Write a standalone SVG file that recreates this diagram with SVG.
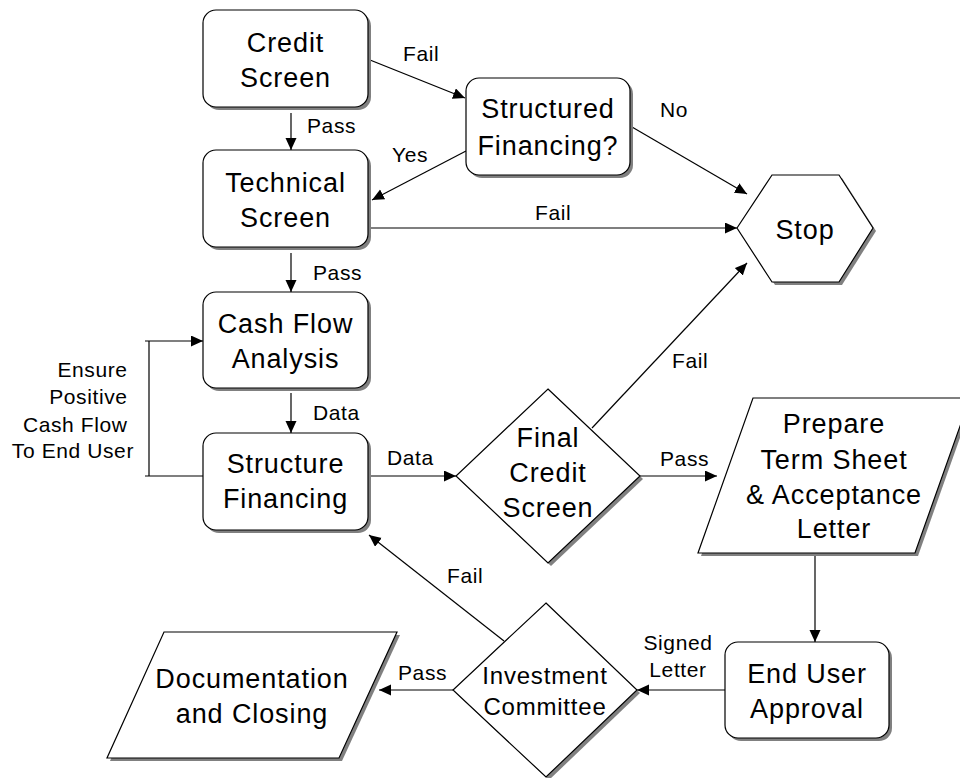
<svg xmlns="http://www.w3.org/2000/svg" width="960" height="778" viewBox="0 0 960 778">
  <style>
    .shape { fill: #ffffff; stroke: #000000; stroke-width: 1.2; }
    .shadow { fill: #808080; stroke: none; }
    .node { font-family: "Liberation Sans", Arial, sans-serif; font-size: 27px; letter-spacing: 0.9px; fill: #000000; text-anchor: middle; }
    .small { font-size: 24px; letter-spacing: 0.8px; }
    .lbl { font-family: "Liberation Sans", Arial, sans-serif; font-size: 21px; letter-spacing: 0.6px; fill: #000000; }
    .conn { fill: none; stroke: #000000; stroke-width: 1.2; }
  </style>
  <defs>
    <marker id="arrow" markerUnits="userSpaceOnUse" markerWidth="13" markerHeight="12" refX="12" refY="5.5" orient="auto">
      <path d="M0,0 L12,5.5 L0,11 z" fill="#000000"/>
    </marker>
  </defs>

  <rect width="960" height="778" fill="#ffffff"/>

  <!-- connectors -->
  <g id="connectors" class="conn">
    <line x1="370" y1="60" x2="465" y2="98" marker-end="url(#arrow)"/>
    <line x1="291" y1="113" x2="291" y2="150" marker-end="url(#arrow)"/>
    <line x1="466" y1="151" x2="372" y2="200" marker-end="url(#arrow)"/>
    <line x1="632" y1="127" x2="747" y2="194" marker-end="url(#arrow)"/>
    <line x1="368" y1="228" x2="737" y2="228" marker-end="url(#arrow)"/>
    <line x1="291" y1="253" x2="291" y2="292" marker-end="url(#arrow)"/>
    <line x1="291" y1="393" x2="291" y2="433" marker-end="url(#arrow)"/>
    <path d="M203,476 H145 M149,476 V341 M145,341 H203" marker-end="url(#arrow)"/>
    <line x1="368" y1="476" x2="456" y2="476" marker-end="url(#arrow)"/>
    <line x1="592" y1="428" x2="747" y2="263" marker-end="url(#arrow)"/>
    <line x1="640" y1="476" x2="717" y2="476" marker-end="url(#arrow)"/>
    <line x1="815" y1="553" x2="815" y2="642" marker-end="url(#arrow)"/>
    <line x1="725" y1="690" x2="637" y2="690" marker-end="url(#arrow)"/>
    <line x1="453" y1="690" x2="379" y2="690" marker-end="url(#arrow)"/>
    <line x1="504" y1="641" x2="369" y2="535" marker-end="url(#arrow)"/>
  </g>

  <!-- connector labels -->
  <g id="labels" class="lbl">
    <text x="403" y="61">Fail</text>
    <text x="307" y="133">Pass</text>
    <text x="392" y="162">Yes</text>
    <text x="660" y="117">No</text>
    <text x="535" y="220">Fail</text>
    <text x="313" y="280">Pass</text>
    <text x="313" y="420">Data</text>
    <text x="387" y="465">Data</text>
    <text x="672" y="368">Fail</text>
    <text x="660" y="466">Pass</text>
    <text x="678" y="650" text-anchor="middle">Signed</text>
    <text x="678" y="677" text-anchor="middle">Letter</text>
    <text x="398" y="680">Pass</text>
    <text x="447" y="583">Fail</text>
    <text text-anchor="end">
      <tspan x="134" y="377">Ensure</tspan>
      <tspan x="134" y="404">Positive</tspan>
      <tspan x="134" y="432">Cash Flow</tspan>
      <tspan x="134" y="458">To End User</tspan>
    </text>
  </g>

  <!-- nodes -->
  <g id="credit-screen">
    <rect class="shadow" x="206" y="13" width="165" height="97" rx="13"/>
    <rect class="shape" x="203" y="10" width="165" height="97" rx="13"/>
    <text class="node" x="285.5" y="52">Credit</text>
    <text class="node" x="285.5" y="87">Screen</text>
  </g>

  <g id="structured-financing">
    <rect class="shadow" x="469" y="81" width="164" height="97" rx="13"/>
    <rect class="shape" x="466" y="78" width="164" height="97" rx="13"/>
    <text class="node" x="548" y="118">Structured</text>
    <text class="node" x="548" y="155">Financing?</text>
  </g>

  <g id="technical-screen">
    <rect class="shadow" x="206" y="153" width="165" height="97" rx="13"/>
    <rect class="shape" x="203" y="150" width="165" height="97" rx="13"/>
    <text class="node" x="285.5" y="192">Technical</text>
    <text class="node" x="285.5" y="227">Screen</text>
  </g>

  <g id="stop">
    <polygon class="shadow" points="740,231 775,178 842,178 876,231 842,285 775,285"/>
    <polygon class="shape" points="737,228 772,175 839,175 873,228 839,282 772,282"/>
    <text class="node" x="805" y="239">Stop</text>
  </g>

  <g id="cash-flow-analysis">
    <rect class="shadow" x="206" y="295" width="165" height="96" rx="13"/>
    <rect class="shape" x="203" y="292" width="165" height="96" rx="13"/>
    <text class="node" x="285.5" y="333">Cash Flow</text>
    <text class="node" x="285.5" y="368">Analysis</text>
  </g>

  <g id="structure-financing">
    <rect class="shadow" x="206" y="436" width="165" height="97" rx="13"/>
    <rect class="shape" x="203" y="433" width="165" height="97" rx="13"/>
    <text class="node" x="285.5" y="473">Structure</text>
    <text class="node" x="285.5" y="508">Financing</text>
  </g>

  <g id="final-credit-screen">
    <polygon class="shadow" points="551,392 643,479 551,566 459,479"/>
    <polygon class="shape" points="548,389 640,476 548,563 456,476"/>
    <text class="node" x="548" y="447">Final</text>
    <text class="node" x="548" y="482">Credit</text>
    <text class="node" x="548" y="517">Screen</text>
  </g>

  <g id="prepare-term-sheet">
    <polygon class="shadow" points="756,401 973,401 918,556 701,556"/>
    <polygon class="shape" points="753,398 970,398 915,553 698,553"/>
    <text class="node" x="834" y="433">Prepare</text>
    <text class="node" x="834" y="469">Term Sheet</text>
    <text class="node" x="834" y="504">&amp; Acceptance</text>
    <text class="node" x="834" y="538">Letter</text>
  </g>

  <g id="end-user-approval">
    <rect class="shadow" x="728" y="645" width="164" height="96" rx="13"/>
    <rect class="shape" x="725" y="642" width="164" height="96" rx="13"/>
    <text class="node" x="807" y="683">End User</text>
    <text class="node" x="807" y="718">Approval</text>
  </g>

  <g id="investment-committee">
    <polygon class="shadow" points="549,606 640,693 549,780 456,693"/>
    <polygon class="shape" points="546,603 637,690 546,777 453,690"/>
    <text class="node small" x="545" y="684">Investment</text>
    <text class="node small" x="545" y="715">Committee</text>
  </g>

  <g id="documentation-closing">
    <polygon class="shadow" points="167,635 400,635 342,761 110,761"/>
    <polygon class="shape" points="164,632 397,632 339,758 107,758"/>
    <text class="node" x="252" y="688">Documentation</text>
    <text class="node" x="252" y="723">and Closing</text>
  </g>
</svg>
